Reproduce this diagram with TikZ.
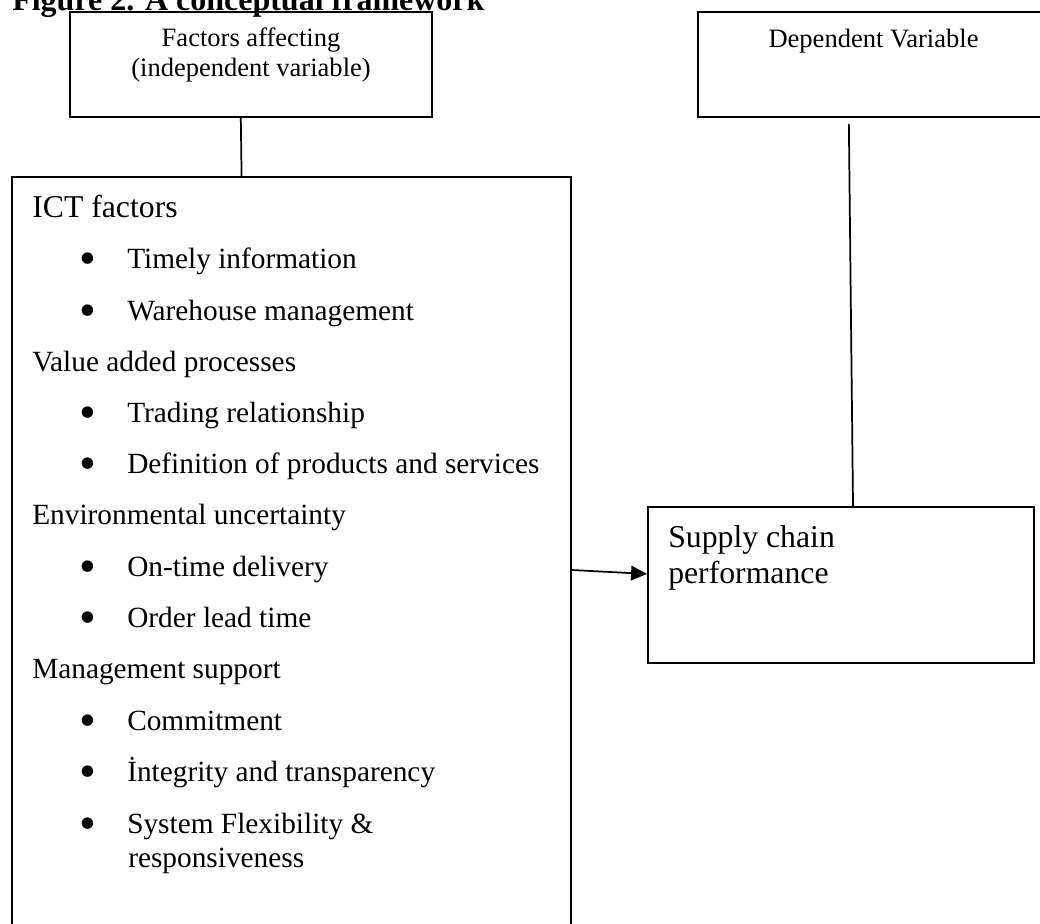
\documentclass[tikz,border=0pt]{standalone}
\usepackage{fontspec}
\setmainfont{Liberation Serif}
\usetikzlibrary{arrows.meta, calc}

\newcommand{\titlefont}{\fontsize{24}{24}\selectfont\bfseries}
\newcommand{\lblfont}{\fontsize{19.9}{22.5}\selectfont}
\newcommand{\bodyfont}{\fontsize{22}{25.5}\selectfont}
\newcommand{\bigfont}{\fontsize{23.8}{27}\selectfont}
\newcommand{\bigbullet}{\hspace{-1.7pt}\smash{\raisebox{-5pt}{\fontsize{36}{36}\selectfont\textbullet}}}

\begin{document}
\begin{tikzpicture}[x=0.75pt, y=-0.75pt,
  box/.style={draw, line width=1.4pt, inner sep=0pt},
  txt/.style={anchor=base west, inner sep=0pt, font=\bodyfont},
  lbl/.style={anchor=base, inner sep=0pt, font=\lblfont},
  item/.style={txt, execute at begin node={\makebox[34.5pt][l]{\bigbullet}}},
  link/.style={line width=1.3pt}]
  \clip (0,0) rectangle (1040,924);

  % Title (cut at the top)
  \node[anchor=base west, inner sep=0pt, font=\titlefont] (title) at (12,11) {Figure 2. A conceptual framework};

  % Top boxes
  \node[box, minimum width=271.5pt, minimum height=78.75pt] (factors) at (251,64.5) {};
  \node[lbl] (factlbl1) at (251,47) {Factors affecting};
  \node[lbl] (factlbl2) at (251,77) {(independent variable)};

  \node[box, minimum width=263.25pt, minimum height=78.75pt] (depvar) at (873.5,64.5) {};
  \node[lbl] (deplbl) at (873.5,48) {Dependent Variable};

  % Big box with the factors
  \node[box, minimum width=419.25pt, minimum height=589.5pt] (ict) at (291.5,570) {};
  \node[txt, font=\bigfont] (icthead) at (32,217) {ICT factors};
  \node[item] (timely) at (81,268) {Timely information};
  \node[item] (warehouse) at (81,320) {Warehouse management};
  \node[txt] (valuehead) at (32,371) {Value added processes};
  \node[item] (trading) at (81,422) {Trading relationship};
  \node[item] (definition) at (81,473) {Definition of products and services};
  \node[txt] (envhead) at (32,524) {Environmental uncertainty};
  \node[item] (ontime) at (81,576) {On-time delivery};
  \node[item] (leadtime) at (81,627) {Order lead time};
  \node[txt] (mgmthead) at (32,678) {Management support};
  \node[item] (commit) at (81,730) {Commitment};
  \node[item] (integrity) at (81,781) {İntegrity and transparency};
  \node[item] (flex) at (81,833) {System Flexibility \&};
  \node[txt] (flex2) at (128,867) {responsiveness};

  % Outcome box
  \node[box, minimum width=289.5pt, minimum height=117pt] (scp) at (841,585) {};
  \node[txt, font=\bigfont] (scplbl1) at (668,547) {Supply chain};
  \node[txt, font=\bigfont] (scplbl2) at (668,583) {performance};

  % Connectors
  \draw[link] ($(factors.south west)!0.472!(factors.south east)$) -- ($(ict.north west)!0.411!(ict.north east)$);
  \draw[link, shorten <=4.5pt] ($(depvar.south west)!0.43!(depvar.south east)$) -- ($(scp.north west)!0.531!(scp.north east)$);
  \draw[link, -{Triangle[length=12pt, width=11pt]}] (ict.east) -- ($(scp.north west)!0.43!(scp.south west)$);
\end{tikzpicture}
\end{document}
